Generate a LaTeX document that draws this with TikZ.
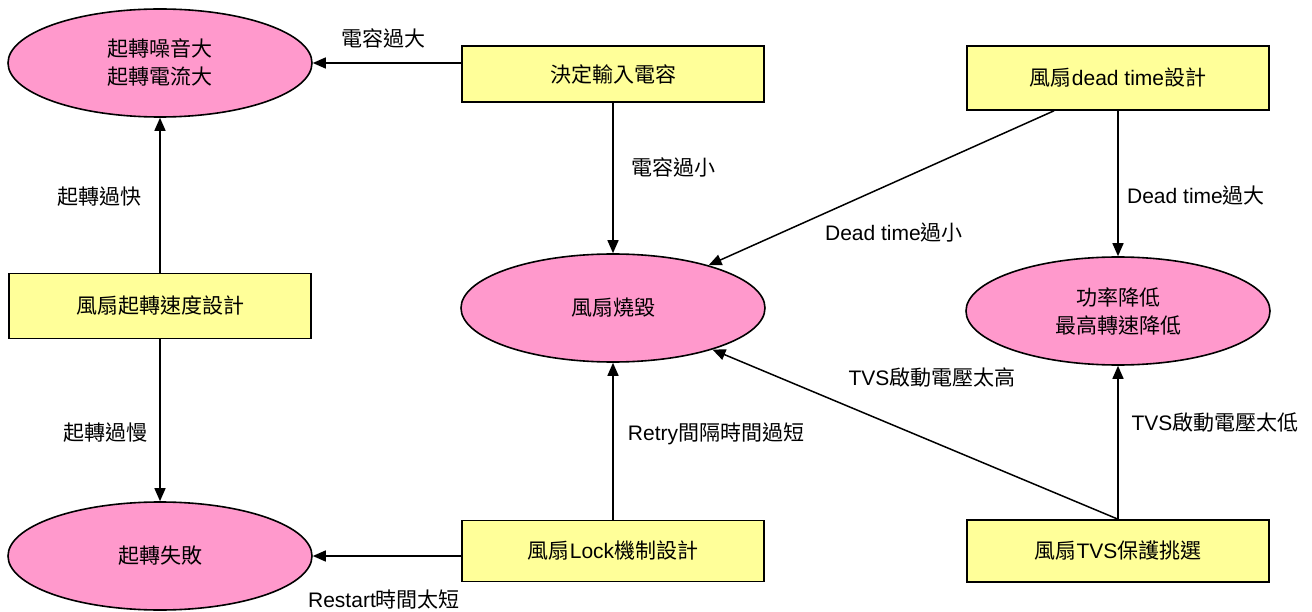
\documentclass[tikz,border=0pt]{standalone}
\usepackage{fontspec}
\setmainfont{Liberation Sans}
\newfontfamily\cjk{Noto Sans CJK TC}
\usetikzlibrary{arrows.meta,shapes.geometric}
\newcommand{\zh}[1]{{\cjk #1}}
\definecolor{pinkfill}{HTML}{FF99CC}
\definecolor{yellowfill}{HTML}{FFFF99}
\tikzset{
  ell/.style={ellipse,draw=black,line width=1.6pt,fill=pinkfill,minimum width=304pt,minimum height=108pt,inner sep=0pt,align=center,font=\fontsize{21}{28}\selectfont},
  box/.style={rectangle,draw=black,line width=1.6pt,fill=yellowfill,minimum width=302pt,inner sep=0pt,align=center,font=\fontsize{21}{28}\selectfont},
  conn/.style={line width=1.5pt,-{Triangle[length=13pt,width=11pt]}},
  lbl/.style={inner sep=0pt,font=\fontsize{21}{26}\selectfont}
}
\begin{document}
\begin{tikzpicture}[x=1pt,y=-1pt]
\useasboundingbox (0,0) rectangle (1312,612);
% ellipses
\node[ell] (noise) at (160,63) {\zh{起轉噪音大}\\\zh{起轉電流大}};
\node[ell] (burn) at (613,308) {\zh{風扇燒毀}};
\node[ell] (power) at (1118,311) {\zh{功率降低}\\\zh{最高轉速降低}};
\node[ell] (fail) at (160,556) {\zh{起轉失敗}};
% boxes
\node[box,minimum height=56pt] (cap) at (613,74) {\zh{決定輸入電容}};
\node[box,minimum height=64pt] (dt) at (1118,78) {\zh{風扇}dead time\zh{設計}};
\node[box,minimum height=65pt] (speed) at (160,306) {\zh{風扇起轉速度設計}};
\node[box,minimum height=61pt] (lock) at (613,551) {\zh{風扇}Lock\zh{機制設計}};
\node[box,minimum height=62pt] (tvs) at (1118,551) {\zh{風扇}TVS\zh{保護挑選}};
% connectors
\draw[conn] (cap.west |- noise.east) -- (noise.east);
\draw[conn] (cap.south) -- (burn.north);
\draw[conn] ([xshift=-64pt]dt.south) -- (burn);
\draw[conn] (dt.south) -- (power.north);
\draw[conn] (speed.north) -- (noise.south);
\draw[conn] (speed.south) -- (fail.north);
\draw[conn] (lock.north) -- (burn.south);
\draw[conn] (lock.west |- fail.east) -- (fail.east);
\draw[conn] (tvs.north) -- (burn);
\draw[conn] (tvs.north) -- (power.south);
% labels
\node[lbl] (l1) at (383,38) {\zh{電容過大}};
\node[lbl] (l2) at (673,167) {\zh{電容過小}};
\node[lbl] (l3) at (894,233) {Dead time\zh{過小}};
\node[lbl] (l4) at (1196,196) {Dead time\zh{過大}};
\node[lbl] (l5) at (99,197) {\zh{起轉過快}};
\node[lbl] (l6) at (105,433) {\zh{起轉過慢}};
\node[lbl] (l7) at (716,434) {Retry\zh{間隔時間過短}};
\node[lbl] (l8) at (384,600) {Restart\zh{時間太短}};
\node[lbl] (l9) at (932,378) {TVS\zh{啟動電壓太高}};
\node[lbl] (l10) at (1215,423) {TVS\zh{啟動電壓太低}};
\end{tikzpicture}
\end{document}
